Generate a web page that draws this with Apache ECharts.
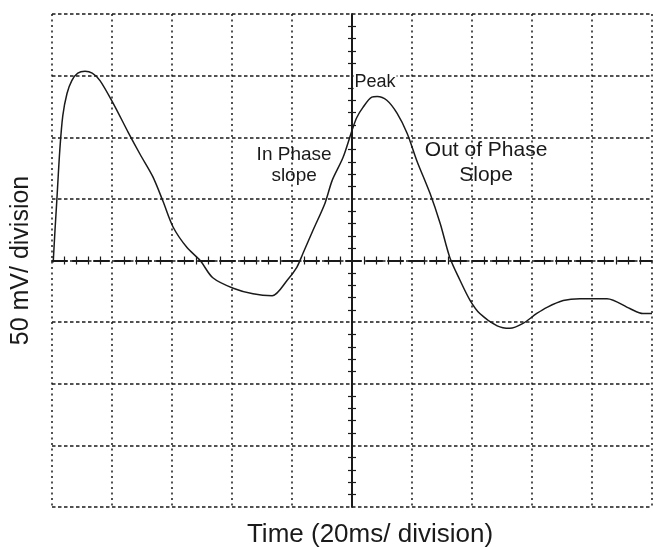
<!DOCTYPE html>
<html>
<head>
<meta charset="utf-8">
<script src="https://cdn.jsdelivr.net/npm/echarts@6/dist/echarts.min.js"></script>
<style>
html,body{margin:0;padding:0;background:#fff;}
#chart{width:653px;height:547px;}
</style>
</head>
<body>
<div id="chart"></div>
<script>
// Time in ms relative to the screen centre (20 ms / division)
const timeMs = [-99.6,-99,-98.4,-97.4,-96.4,-95,-93.4,-91.4,-89,-86.6,-84,-79.6,-74.6,-70.6,-66.4,-63,-59.6,-55,-50.6,-46.4,-39.6,-33,-26.6,-21.6,-18.4,-16.4,-13,-9,-6.6,-3,0,1.6,3.6,6.6,8.4,11.6,15,18.4,21.6,26,29.4,32.6,36,39.4,42.6,48.4,52.6,57,61.6,65,70.4,76,85,92.6,97,100];
// Voltage in mV (50 mV / division)
const voltageMv = [-1.5,24.5,48.5,89.5,117.5,135.5,146,152,153.5,152,146,127.5,104,86,68,48,27,10.5,0,-14,-22.5,-27,-28.5,-16,-5.5,5.5,24.5,46.5,65,83.5,105.5,116,124,132.5,133,130,119.5,103,81,54.5,30,2.5,-16,-32.5,-43,-53,-55,-51,-43,-38,-32.5,-31,-31,-39,-43,-43];
const xRange = [-100, 100];
const xStep = 20;
const yRange = [-200, 200];
const yStep = 50;
const annotations = [
  { text: 'Peak', t: 7.7, v: 145, size: 18, lh: 20, bg: '#fff' },
  { text: 'In Phase\nslope', t: -19.3, v: 77, size: 19, lh: 21, bg: 'transparent' },
  { text: 'Out of Phase\nSlope', t: 44.7, v: 79.5, size: 21, lh: 25, bg: 'transparent' }
];
const xName = 'Time (20ms/ division)';
const yName = '50 mV/ division';

const ink = '#1a1a1a';
const chart = echarts.init(document.getElementById('chart'));
const baseX = { type: 'value', min: xRange[0], max: xRange[1], interval: xStep, axisLabel: { show: false }, splitLine: { show: false }, axisTick: { show: false } };
const baseY = { type: 'value', min: yRange[0], max: yRange[1], interval: yStep, axisLabel: { show: false }, splitLine: { show: false }, axisTick: { show: false } };
const centreTicks = { show: true, splitNumber: 5, length: 4, lineStyle: { color: ink, width: 1.2 } };

chart.setOption({
  backgroundColor: '#fff',
  animation: false,
  grid: { left: 52, right: 1, top: 14, bottom: 40, containLabel: false, outerBoundsMode: 'none' },
  xAxis: [
    Object.assign({}, baseX, {
      position: 'bottom',
      axisLine: { show: false, onZero: false },
      splitLine: { show: true, lineStyle: { color: ink, width: 1.5, type: [2, 3.5] } },
      name: xName, nameLocation: 'middle', nameGap: 15,
      nameTextStyle: { fontFamily: 'Liberation Sans', fontSize: 26, color: ink, verticalAlign: 'top', padding: [0, 0, 0, 36] }
    }),
    Object.assign({}, baseX, {
      position: 'bottom',
      axisLine: { show: true, onZero: true, onZeroAxisIndex: 0, lineStyle: { color: ink, width: 2, type: [15, 6] } },
      minorTick: centreTicks
    }),
    Object.assign({}, baseX, {
      position: 'top',
      axisLine: { show: false, onZero: true, onZeroAxisIndex: 0 },
      minorTick: centreTicks
    })
  ],
  yAxis: [
    Object.assign({}, baseY, {
      position: 'left',
      axisLine: { show: false, onZero: false },
      splitLine: { show: true, lineStyle: { color: ink, width: 1.5, type: [3.5, 2.5] } },
      name: yName, nameLocation: 'middle', nameGap: 18, nameRotate: 90,
      nameTextStyle: { fontFamily: 'Liberation Sans', fontSize: 25, color: ink }
    }),
    Object.assign({}, baseY, {
      position: 'left',
      axisLine: { show: true, onZero: true, onZeroAxisIndex: 0, lineStyle: { color: ink, width: 2 } },
      minorTick: centreTicks
    }),
    Object.assign({}, baseY, {
      position: 'right',
      axisLine: { show: false, onZero: true, onZeroAxisIndex: 0 },
      minorTick: centreTicks
    })
  ],
  series: [{
    type: 'line',
    xAxisIndex: 0,
    yAxisIndex: 0,
    data: timeMs.map((t, i) => [t, voltageMv[i]]),
    showSymbol: false,
    smooth: 0.3,
    lineStyle: { color: ink, width: 1.5 },
    markPoint: {
      symbol: 'circle',
      symbolSize: 0,
      label: { show: true, position: 'inside', fontFamily: 'Liberation Sans', color: ink, padding: [0, 1] },
      data: annotations.map(a => ({ coord: [a.t, a.v], value: a.text, label: { formatter: a.text, fontSize: a.size, lineHeight: a.lh, backgroundColor: a.bg } }))
    },
    z: 5
  }]
});
</script>
</body>
</html>
